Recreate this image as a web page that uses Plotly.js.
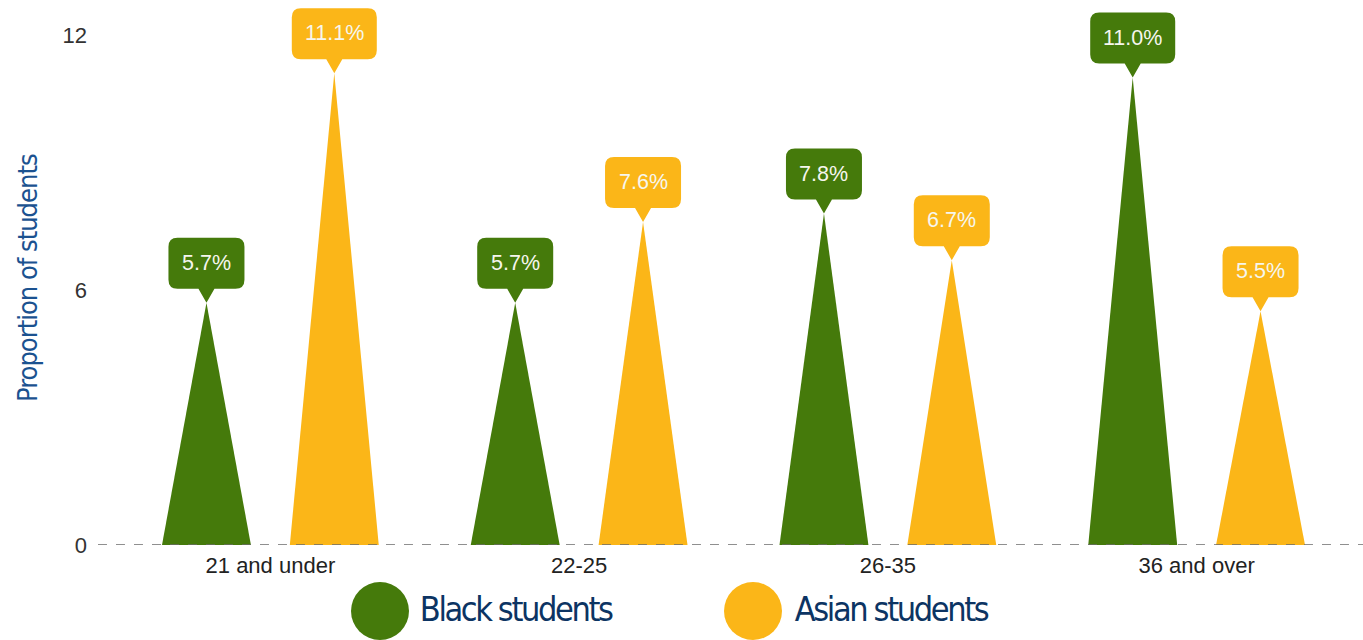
<!DOCTYPE html>
<html>
<head>
<meta charset="utf-8">
<script src="https://cdn.plot.ly/plotly-3.0.1.min.js"></script>
<style>html,body{margin:0;padding:0;background:#fff;}#chart{width:1363px;height:640px;}</style>
</head>
<body>
<div id="chart"></div>
<script>
const categories = ['21 and under', '22-25', '26-35', '36 and over'];
const blackValues = [5.7, 5.7, 7.8, 11.0];
const asianValues = [11.1, 7.6, 6.7, 5.5];
const seriesNames = ['Black students', 'Asian students'];
const yTickValues = [0, 6, 12];
const yTitle = 'Proportion of students';

const GREEN = '#457A0B';
const YELLOW = '#FBB618';
const NAVY = '#0C3463';
const TITLE_BLUE = '#1B5290';
const SANS = '"Liberation Sans", Arial, sans-serif';
const COND = '"DejaVu Sans Condensed", "DejaVu Sans", sans-serif';
const OFFSET = 0.207;   // group offset in category units
const HALF = 0.144;     // half base width in category units

const series = [
  {name: seriesNames[0], values: blackValues, color: GREEN, off: -OFFSET},
  {name: seriesNames[1], values: asianValues, color: YELLOW, off: OFFSET}
];

const traces = [];
const shapes = [];
const annotations = [];

function calloutPath(w) {
  const h = w / 2, r = 9, b = 14, t = 65, p = 8;
  return `M 0 0 L ${-p} ${b} L ${-h + r} ${b} Q ${-h} ${b} ${-h} ${b + r} ` +
         `L ${-h} ${t - r} Q ${-h} ${t} ${-h + r} ${t} L ${h - r} ${t} Q ${h} ${t} ${h} ${t - r} ` +
         `L ${h} ${b + r} Q ${h} ${b} ${h - r} ${b} L ${p} ${b} Z`;
}

series.forEach(s => {
  s.values.forEach((v, i) => {
    const cx = i + s.off;
    traces.push({
      type: 'scatter', mode: 'lines',
      x: [cx - HALF, cx, cx + HALF, cx - HALF],
      y: [0, v, 0, 0],
      fill: 'toself', fillcolor: s.color,
      line: {width: 0, color: s.color},
      hoverinfo: 'skip', showlegend: false
    });
    const label = v.toFixed(1) + '%';
    shapes.push({
      type: 'path', xref: 'x', yref: 'y',
      xsizemode: 'pixel', ysizemode: 'pixel',
      xanchor: cx, yanchor: v,
      path: calloutPath(40 + 9 * label.length),
      fillcolor: s.color, line: {width: 0}, layer: 'above'
    });
    annotations.push({
      x: cx, y: v, xref: 'x', yref: 'y', yshift: 40,
      text: label, showarrow: false, xanchor: 'center', yanchor: 'middle',
      font: {family: SANS, size: 21.5, color: '#F6F6EE'}
    });
  });
});

// dashed zero line
shapes.push({
  type: 'line', xref: 'paper', yref: 'y', x0: -0.0146, x1: 1.01, y0: 0, y1: 0,
  line: {color: '#6b6b6b', width: 1.5, dash: 'dash'}, layer: 'above'
});

// legend (drawn manually)
const legendPos = [{cx: 380, tx: 401}, {cx: 753, tx: 776}];
const plotL = 116, plotW = 1235, plotB = 545, plotH = 545;
series.forEach((s, k) => {
  const px = (legendPos[k].cx - plotL) / plotW;
  const py = (plotB - 611) / plotH;
  shapes.push({
    type: 'circle', xref: 'paper', yref: 'paper',
    xsizemode: 'pixel', ysizemode: 'pixel', xanchor: px, yanchor: py,
    x0: -29, x1: 29, y0: -29, y1: 29,
    fillcolor: s.color, line: {width: 0}
  });
  annotations.push({
    xref: 'paper', yref: 'paper',
    x: (legendPos[k].tx - plotL) / plotW, y: (plotB - 609) / plotH,
    text: s.name, showarrow: false, xanchor: 'left', yanchor: 'middle',
    font: {family: COND, size: 34, color: NAVY}
  });
});

// y-axis title
annotations.push({
  xref: 'paper', yref: 'paper', x: (28 - plotL) / plotW, y: (plotB - 278) / plotH,
  text: yTitle, showarrow: false, textangle: -90,
  xanchor: 'center', yanchor: 'middle',
  font: {family: COND, size: 27, color: TITLE_BLUE}
});

const layout = {
  width: 1363, height: 640,
  margin: {l: plotL, r: 1363 - plotL - plotW, t: 0, b: 640 - plotB},
  paper_bgcolor: '#ffffff', plot_bgcolor: '#ffffff',
  showlegend: false,
  xaxis: {
    range: [-0.5, 3.5], tickvals: categories.map((c, i) => i), ticktext: categories,
    showgrid: false, zeroline: false, showline: false, ticks: '',
    ticklabelstandoff: 5,
    tickfont: {family: SANS, size: 22, color: '#222'}
  },
  yaxis: {
    range: [0, plotB / 42.5], tickvals: yTickValues, ticktext: yTickValues.map(String),
    showgrid: false, zeroline: false, showline: false, ticks: '',
    ticklabelstandoff: 28,
    tickfont: {family: SANS, size: 22, color: '#333'}
  },
  shapes: shapes,
  annotations: annotations
};

Plotly.newPlot('chart', traces, layout, {displayModeBar: false, staticPlot: true}).then(gd => {
  // tighten the condensed legend / title lettering
  gd.querySelectorAll('.annotation-text').forEach(t => {
    const txt = t.textContent;
    if (seriesNames.includes(txt)) t.style.letterSpacing = '-2.4px';
    if (txt === yTitle) t.style.letterSpacing = '-1px';
  });
});
</script>
</body>
</html>
